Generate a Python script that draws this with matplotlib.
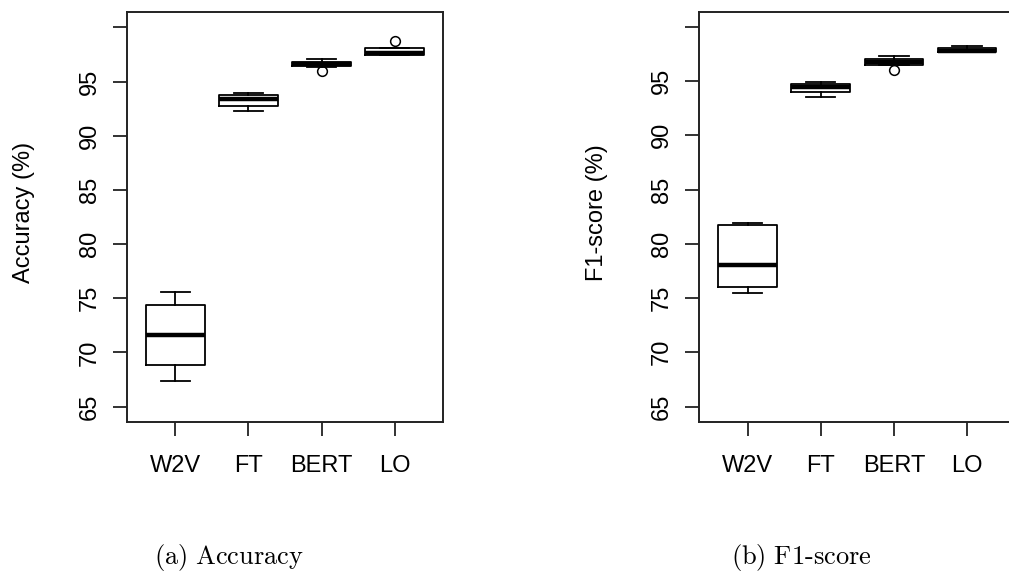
import matplotlib.pyplot as plt

plt.rcParams['font.family'] = ['Liberation Sans', 'DejaVu Sans']
plt.rcParams['mathtext.fontset'] = 'cm'

modelos = ["W2V", "FT", "BERT", "LO"]

# Accuracy (%) : cinco numeros
acc_whislo = [67.4, 92.3, 96.38, 97.45]
acc_q1 = [68.86, 92.73, 96.42, 97.45]
acc_med = [71.58, 93.36, 96.6, 97.6]
acc_q3 = [74.4, 93.79, 96.85, 98.12]
acc_whishi = [75.53, 93.94, 97.06, 98.12]
acc_fliers = [[], [], [95.98], [98.78]]

# F1-score (%)
f1_whislo = [75.44, 93.51, 96.44, 97.65]
f1_q1 = [76.05, 93.98, 96.53, 97.65]
f1_med = [78.07, 94.45, 96.8, 97.82]
f1_q3 = [81.77, 94.75, 97.0, 98.05]
f1_whishi = [81.93, 94.9, 97.28, 98.22]
f1_fliers = [[], [], [96.07], []]

yticks = [65, 70, 75, 80, 85, 90, 95, 100]
ytick_labels = ["65", "70", "75", "80", "85", "90", "95", ""]


def graficar(ax, whislo, q1, med, q3, whishi, fliers, ylabel):
    stats = []
    for i in range(len(modelos)):
        stats.append({"whislo": whislo[i], "q1": q1[i], "med": med[i],
                      "q3": q3[i], "whishi": whishi[i], "fliers": fliers[i]})
    ax.bxp(stats, positions=[1, 2, 3, 4], widths=0.8, capwidths=0.4,
           boxprops=dict(color="black", linewidth=1.3),
           whiskerprops=dict(color="black", linewidth=1.3),
           capprops=dict(color="black", linewidth=1.3),
           medianprops=dict(color="black", linewidth=3.2, solid_capstyle="butt"),
           flierprops=dict(marker="o", markersize=7, markerfacecolor="none",
                           markeredgecolor="black", markeredgewidth=1.1))
    ax.set_xlim(0.34, 4.66)
    ax.set_ylim(63.6, 101.4)
    ax.set_xticks([1, 2, 3, 4], modelos)
    ax.set_yticks(yticks, ytick_labels)
    for lbl in ax.get_yticklabels():
        lbl.set_rotation(90)
        lbl.set_va("center")
        lbl.set_ha("right")
    ax.tick_params(axis="both", direction="out", length=10, width=1.3,
                   labelsize=17, color="#222222")
    ax.tick_params(axis="y", pad=9)
    ax.tick_params(axis="x", pad=14)
    for s in ax.spines.values():
        s.set_linewidth(1.4)
        s.set_color("#222222")
    ax.set_ylabel(ylabel, fontsize=17)
    ax.yaxis.set_label_coords(-0.29, 0.51)


fig = plt.figure(figsize=(10.09, 5.78), dpi=100)
ax1 = fig.add_axes([127 / 1009, 1 - 421.7 / 578, 316 / 1009, 409.4 / 578])
ax2 = fig.add_axes([699.3 / 1009, 1 - 421.7 / 578, 316 / 1009, 410 / 578])

graficar(ax1, acc_whislo, acc_q1, acc_med, acc_q3, acc_whishi, acc_fliers, "Accuracy (%)")
graficar(ax2, f1_whislo, f1_q1, f1_med, f1_q3, f1_whishi, f1_fliers, "F1-score (%)")

fig.text(154 / 1009, 1 - 564 / 578, r"$\mathrm{(a)\ Accuracy}$", fontsize=19,
         ha="left", va="baseline")
fig.text(731 / 1009, 1 - 564 / 578, r"$\mathrm{(b)\ F1\text{-}score}$", fontsize=19,
         ha="left", va="baseline")

fig.savefig("out.png", dpi=100)
